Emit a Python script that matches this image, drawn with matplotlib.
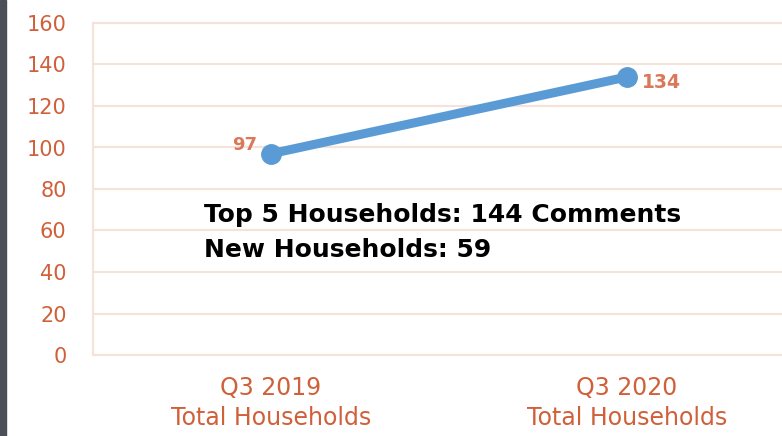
import matplotlib
matplotlib.use("Agg")
import matplotlib.pyplot as plt
from matplotlib.patches import Rectangle

categories = ["Q3 2019\nTotal Households", "Q3 2020\nTotal Households"]
households = [97, 134]
y_ticks = [0, 20, 40, 60, 80, 100, 120, 140, 160]
note_lines = ["Top 5 Households: 144 Comments", "New Households: 59"]

tick_color = "#D0603A"
label_color = "#D9785A"
grid_color = "#F7E2DA"
line_color = "#5B9BD5"

plt.rcParams["font.family"] = ["DejaVu Sans"]

fig = plt.figure(figsize=(7.82, 4.36), dpi=100)
ax = fig.add_axes([93 / 782, 81 / 436, 712 / 782, 332 / 436])

x = list(range(len(categories)))
ax.plot(x, households, color=line_color, linewidth=6.5, marker="o",
        markersize=14, solid_capstyle="round", zorder=3)

ax.set_xlim(-0.5, 1.5)
ax.set_ylim(0, 160)
ax.set_yticks(y_ticks)
ax.set_xticks(x)
ax.set_xticklabels(categories, linespacing=1.3)
ax.tick_params(axis="both", length=0, colors=tick_color)
ax.tick_params(axis="y", labelsize=15, pad=19)
ax.tick_params(axis="x", labelsize=17, pad=15)

ax.grid(axis="y", color=grid_color, linewidth=1.5)
ax.set_axisbelow(True)
ax.spines["right"].set_visible(False)
for side in ["left", "bottom", "top"]:
    ax.spines[side].set_color(grid_color)
    ax.spines[side].set_linewidth(1.5)

# value labels
ax.annotate(str(households[0]), (x[0], households[0]), xytext=(-10, 6),
            textcoords="offset points", ha="right", va="center",
            color=label_color, fontsize=13, fontweight="bold")
ax.annotate(str(households[1]), (x[1], households[1]), xytext=(11, -4),
            textcoords="offset points", ha="left", va="center",
            color=label_color, fontsize=13.5, fontweight="bold")

ax.text(204 / 782, 1 - 222 / 436, note_lines[0], transform=fig.transFigure,
        fontsize=18, fontweight="bold", color="black", va="baseline")
ax.text(204 / 782, 1 - 257 / 436, note_lines[1], transform=fig.transFigure,
        fontsize=18, fontweight="bold", color="black", va="baseline")

# dark strip on the left edge
fig.patches.append(Rectangle((0, 0), 6 / 782, 1, transform=fig.transFigure,
                             color="#4B5058", zorder=5))

fig.savefig("out.png", dpi=100)
